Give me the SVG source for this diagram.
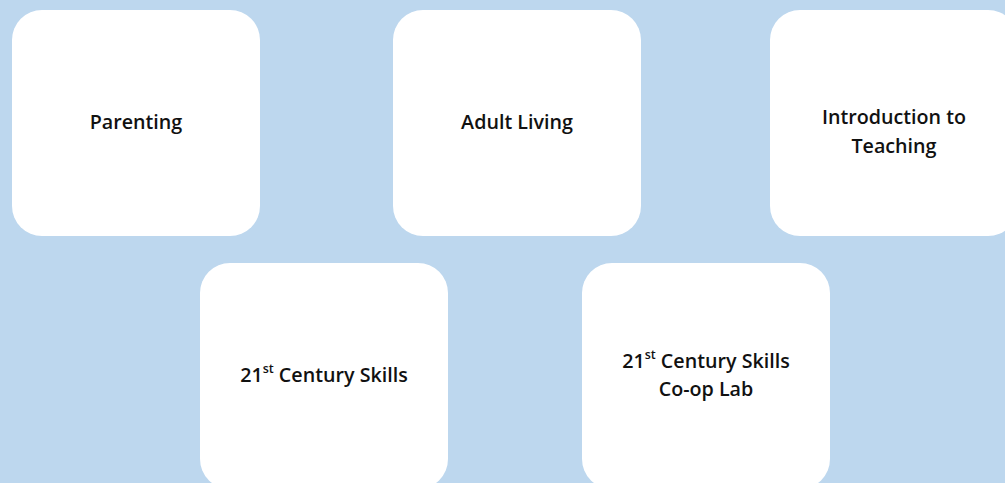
<svg xmlns="http://www.w3.org/2000/svg" width="1005" height="483" viewBox="0 0 1005 483">
<style>
.box{fill:#ffffff;}
.t{font-family:"Open Sans","Noto Sans","Liberation Sans",sans-serif;font-weight:600;font-size:19.7px;fill:#111111;text-anchor:middle;dominant-baseline:central;}
.sup{font-size:12.5px;}
</style>
<rect x="0" y="0" width="1005" height="483" fill="#bdd7ee"/>
<g id="node-parenting">
<rect class="box" x="12" y="10" width="248" height="226" rx="30" ry="30"/>
<text class="t" x="136" y="121">Parenting</text>
</g>
<g id="node-adult-living">
<rect class="box" x="393" y="10" width="248" height="226" rx="30" ry="30"/>
<text class="t" x="517" y="121">Adult Living</text>
</g>
<g id="node-intro-teaching">
<rect class="box" x="770" y="10" width="248" height="226" rx="30" ry="30"/>
<text class="t" x="894" y="116">Introduction to</text>
<text class="t" x="894" y="145">Teaching</text>
</g>
<g id="node-21st-skills">
<rect class="box" x="200" y="263" width="248" height="226" rx="30" ry="30"/>
<text class="t" x="324" y="374">21<tspan class="sup" dy="-6">st</tspan><tspan dy="6"> Century Skills</tspan></text>
</g>
<g id="node-21st-coop">
<rect class="box" x="582" y="263" width="248" height="226" rx="30" ry="30"/>
<text class="t" x="706" y="360">21<tspan class="sup" dy="-6">st</tspan><tspan dy="6"> Century Skills</tspan></text>
<text class="t" x="706" y="388">Co-op Lab</text>
</g>
<g id="connectors"></g>
</svg>
